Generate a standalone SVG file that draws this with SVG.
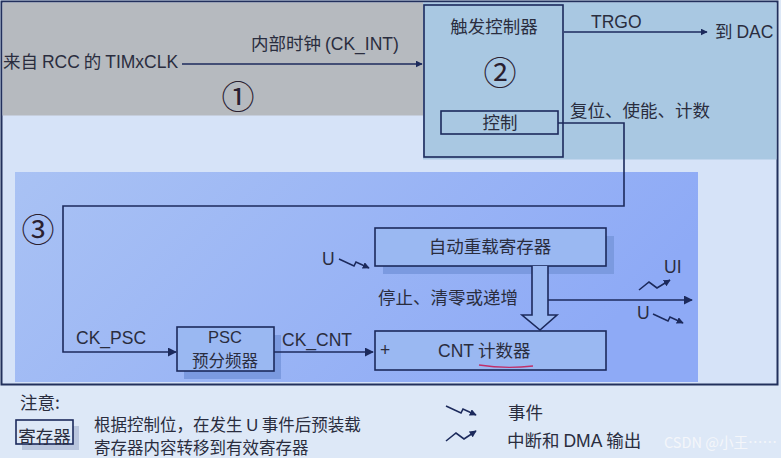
<svg xmlns="http://www.w3.org/2000/svg" width="781" height="458" viewBox="0 0 781 458">
<defs>
<style>
.t{font-family:"Liberation Sans","Noto Sans CJK SC",sans-serif;fill:#2a2d3e;font-size:17.5px}
.c{font-family:"Noto Sans CJK SC","Liberation Sans",sans-serif;fill:#2a2d3e;font-size:17.5px}
.s{font-size:16.5px}
.l{font-family:"Liberation Sans",sans-serif}
.ln{fill:none;stroke:#1c2a5c;stroke-width:1.6}
.box{fill:#9ab8f2;stroke:#1c2a5c;stroke-width:1.6}
.sh{fill:#7b9ae0}
.num{font-family:"Noto Sans CJK SC",sans-serif;font-size:33px;fill:#2a2030}
</style>
<marker id="ah" viewBox="0 0 10 10" refX="9" refY="5" markerWidth="7" markerHeight="7" markerUnits="userSpaceOnUse" orient="auto">
<path d="M0,0 L10,5 L0,10 z" fill="#1c2a5c"/>
</marker>
<marker id="ah2" viewBox="0 0 10 10" refX="9" refY="5" markerWidth="9" markerHeight="9" markerUnits="userSpaceOnUse" orient="auto">
<path d="M0,0 L10,5 L0,10 z" fill="#1c2a5c"/>
</marker>
<linearGradient id="g3" x1="0" y1="0" x2="1" y2="0.3">
<stop offset="0" stop-color="#a9c2f4"/>
<stop offset="1" stop-color="#8eaaf6"/>
</linearGradient>
</defs>
<rect x="0" y="0" width="781" height="458" fill="#dde8f7"/>
<rect x="1.5" y="1.5" width="776" height="383" fill="#d6e3f8" stroke="#22305c" stroke-width="2"/>
<g id="region1">
<rect x="2.5" y="2.5" width="421" height="113" fill="#b6babf"/>
<text class="num" x="238" y="109" text-anchor="middle">①</text>
</g>
<g id="region2">
<rect x="423" y="2.5" width="353.5" height="157" fill="#a9c8e2"/>
</g>
<g id="region3">
<rect x="15" y="172" width="683" height="210" fill="url(#g3)"/>
<text class="num" x="38" y="242" text-anchor="middle">③</text>
</g>
<g id="trigger">
<rect x="424" y="5" width="139" height="152" fill="none" stroke="#1c2a5c" stroke-width="1.6"/>
<text class="c" x="494" y="33" text-anchor="middle">触发控制器</text>
<text class="num" x="500" y="85" text-anchor="middle">②</text>
</g>
<g id="control">
<rect x="441" y="111" width="117" height="23" fill="none" stroke="#1c2a5c" stroke-width="1.6"/>
<text class="c" x="500" y="129" text-anchor="middle">控制</text>
</g>
<g id="arr">
<rect class="sh" x="383" y="236" width="231" height="38"/>
<rect class="box" x="375" y="228" width="231" height="38"/>
<text class="c" x="490" y="253" text-anchor="middle">自动重载寄存器</text>
</g>
<g id="psc">
<rect class="sh" x="184" y="335" width="97" height="44"/>
<rect class="box" x="177" y="327" width="97" height="44"/>
<text class="t s" x="225" y="343" text-anchor="middle">PSC</text>
<text class="c s" x="225" y="367" text-anchor="middle">预分频器</text>
</g>
<g id="cnt">
<rect class="box" x="375" y="331" width="231" height="39"/>
<text class="t" x="380" y="356">+</text>
<text class="c" x="438" y="357"><tspan class="l">CNT</tspan> 计数器</text>
<path d="M479,365 Q505,369 533,366" fill="none" stroke="#c0306a" stroke-width="1.3"/>
</g>
<g id="legend">
<text class="c" x="20" y="409">注意:</text>
<rect x="22" y="426" width="57" height="24" fill="#b9c6de"/>
<rect x="16" y="420" width="57" height="24" fill="#dde8f7" stroke="#1c2a5c" stroke-width="1.6"/>
<text class="c" x="44.5" y="438" text-anchor="middle" dominant-baseline="middle">寄存器</text>
<text class="c s" x="94" y="431">根据控制位，在发生 <tspan class="l">U</tspan> 事件后预装载</text>
<text class="c s" x="94" y="454">寄存器内容转移到有效寄存器</text>
<text class="c" x="508" y="419">事件</text>
<text class="c" x="507" y="447">中断和 <tspan class="l">DMA</tspan> 输出</text>
<text x="664" y="448" style="font-family:'Noto Sans CJK SC',sans-serif;font-size:14.5px;fill:#f4f6fa">CSDN @小王……</text>
</g>
<g id="connectors">
<line class="ln" x1="182" y1="64" x2="422" y2="64" marker-end="url(#ah)"/>
<line class="ln" x1="564" y1="32" x2="707" y2="32" marker-end="url(#ah)"/>
<polyline class="ln" points="558,123 624,123 624,206 63,206 63,352 176,352" marker-end="url(#ah2)"/>
<line class="ln" x1="274" y1="352" x2="373" y2="352" marker-end="url(#ah2)"/>
<path d="M532,266 L532,315 L522,315 L540,330 L557,315 L548,315 L548,266" fill="#9ab8f2" stroke="#1c2a5c" stroke-width="1.6"/>
<line class="ln" x1="548" y1="300" x2="692" y2="300" marker-end="url(#ah2)"/>
<polyline class="ln" points="339,259 354,266 356,262 369,268" marker-end="url(#ah)"/>
<polyline class="ln" points="653,314 668,321 670,317 683,323" marker-end="url(#ah)"/>
<polyline class="ln" points="639,290 649,282 657,288 670,280" marker-end="url(#ah)"/>
<polyline class="ln" points="446,406 461,413 463,409 476,415" marker-end="url(#ah)"/>
<polyline class="ln" points="446,441 456,433 464,439 476,431" marker-end="url(#ah)"/>
</g>
<g id="labels">
<text class="c" x="3" y="68">来自 <tspan class="l">RCC</tspan> 的 <tspan class="l">TIMxCLK</tspan></text>
<text class="c" x="251" y="50">内部时钟 <tspan class="l">(CK_INT)</tspan></text>
<text class="t" x="591" y="28">TRGO</text>
<text class="c" x="715" y="38">到 <tspan class="l">DAC</tspan></text>
<text class="c" x="570" y="117">复位、使能、计数</text>
<text class="t" x="322" y="265">U</text>
<text class="c" x="378" y="304">停止、清零或递增</text>
<text class="t" x="664" y="273">UI</text>
<text class="t" x="637" y="319">U</text>
<text class="t" x="76" y="344">CK_PSC</text>
<text class="t" x="282" y="346">CK_CNT</text>
</g>
</svg>
